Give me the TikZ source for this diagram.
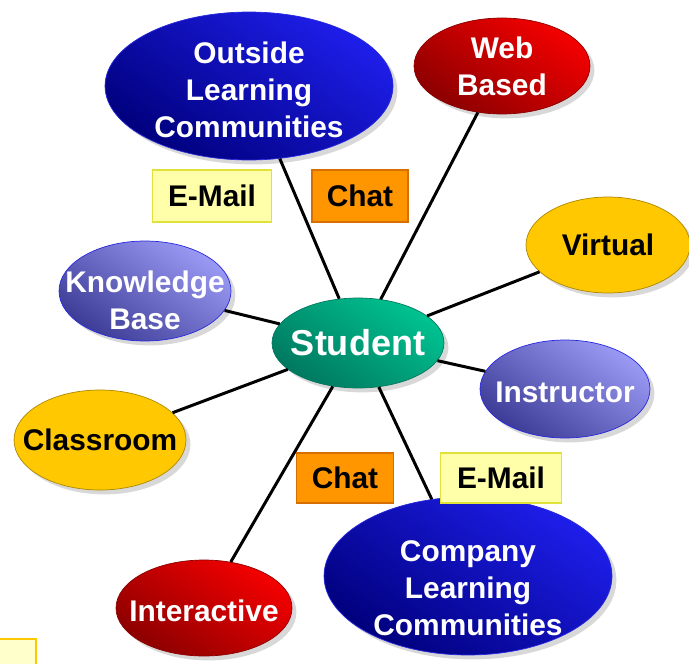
\documentclass[tikz,border=0pt]{standalone}
\usepackage{fontspec}
\setmainfont{Liberation Sans}
\usetikzlibrary{shapes.geometric,shadows}

\definecolor{navy}{RGB}{0,0,125}
\definecolor{brightblue}{RGB}{30,30,235}
\definecolor{bluerim}{RGB}{40,40,225}
\definecolor{darkred}{RGB}{140,0,0}
\definecolor{brightred}{RGB}{245,0,0}
\definecolor{gold}{RGB}{255,200,0}
\definecolor{goldrim}{RGB}{175,135,0}
\definecolor{periwinkle}{RGB}{60,60,150}
\definecolor{lightperiwinkle}{RGB}{155,155,245}
\definecolor{tealdark}{RGB}{0,120,95}
\definecolor{teallight}{RGB}{0,195,145}
\definecolor{paleyellow}{RGB}{255,255,170}
\definecolor{paleyellowrim}{RGB}{225,225,60}
\definecolor{chatorange}{RGB}{255,150,0}
\definecolor{chatrim}{RGB}{215,110,0}

% taller first line, pushes the text block down inside its bubble
\newcommand{\pushdown}[1]{\rule{0pt}{#1}}

\tikzset{
  bubble/.style={ellipse, inner xsep=-2cm, inner ysep=-1.5cm, align=center,
    font=\bfseries\fontsize{17}{21}\selectfont,
    drop shadow={shadow xshift=2.5pt, shadow yshift=-2.5pt, fill=black!30, opacity=0.5}},
  bluebubble/.style={bubble, draw=bluerim, top color=brightblue, bottom color=navy, shading angle=-35, text=white},
  redbubble/.style={bubble, draw=darkred, top color=brightred, bottom color=darkred, shading angle=-35, text=white},
  goldbubble/.style={bubble, draw=goldrim, fill=gold, text=black},
  purplebubble/.style={bubble, draw=bluerim, top color=lightperiwinkle, bottom color=periwinkle, shading angle=-35, text=white},
  studentbubble/.style={bubble, draw=tealdark, top color=teallight, bottom color=tealdark, shading angle=-35, text=white,
    font=\bfseries\fontsize{20.5}{24}\selectfont},
  mailbox/.style={draw=paleyellowrim, fill=paleyellow, line width=1pt, inner sep=0pt, font=\bfseries\fontsize{17}{21}\selectfont},
  chatbox/.style={draw=chatrim, fill=chatorange, line width=1pt, inner sep=0pt, font=\bfseries\fontsize{17}{21}\selectfont},
  link/.style={line width=1.7pt, black}
}

\begin{document}
\begin{tikzpicture}[x=0.02cm, y=-0.02cm]
  \useasboundingbox[fill=white] (0,0) rectangle (689,663);

  \node[studentbubble, minimum width=3.44cm, minimum height=1.8cm] (student) at (358,343) {Student};

  \node[bluebubble, minimum width=5.76cm, minimum height=2.96cm] (outside) at (249,86) {\pushdown{17pt}Outside\\Learning\\Communities};
  \node[redbubble, minimum width=3.52cm, minimum height=1.92cm] (web) at (502,66) {Web\\Based};
  \node[goldbubble, minimum width=3.28cm, minimum height=1.92cm] (virtual) at (608,245) {Virtual};
  \node[purplebubble, minimum width=3.44cm, minimum height=2cm] (knowledge) at (145,291) {\pushdown{23pt}Knowledge\\Base};
  \node[purplebubble, minimum width=3.4cm, minimum height=1.96cm] (instructor) at (565,389) {\pushdown{16pt}Instructor};
  \node[goldbubble, minimum width=3.44cm, minimum height=2cm] (classroom) at (100,440) {Classroom};
  \node[redbubble, minimum width=3.52cm, minimum height=1.92cm] (interactive) at (204,608) {\pushdown{15pt}Interactive};
  \node[bluebubble, minimum width=5.76cm, minimum height=3.16cm] (company) at (468,576) {\pushdown{26pt}Company\\Learning\\Communities};

  \draw[link] (student) -- (outside);
  \draw[link] (student) -- (web);
  \draw[link] (student) -- (virtual);
  \draw[link] (student) -- (knowledge);
  \draw[link] (student) -- (instructor);
  \draw[link] (student) -- (classroom);
  \draw[link] (student) -- (interactive);
  \draw[link] (student) -- (company);

  \node[mailbox, minimum width=2.38cm, minimum height=1.04cm] (mailtop) at (212,196) {E-Mail};
  \node[chatbox, minimum width=1.92cm, minimum height=1.04cm] (chattop) at (360,196) {Chat};
  \node[chatbox, minimum width=1.94cm, minimum height=1cm] (chatlow) at (345,478) {Chat};
  \node[mailbox, minimum width=2.42cm, minimum height=1cm] (maillow) at (501,478) {E-Mail};

  % corner of a box cut off by the picture edge
  \filldraw[draw=gold, fill=paleyellow!60, line width=1pt] (-5,639) rectangle (36,670);
\end{tikzpicture}
\end{document}
